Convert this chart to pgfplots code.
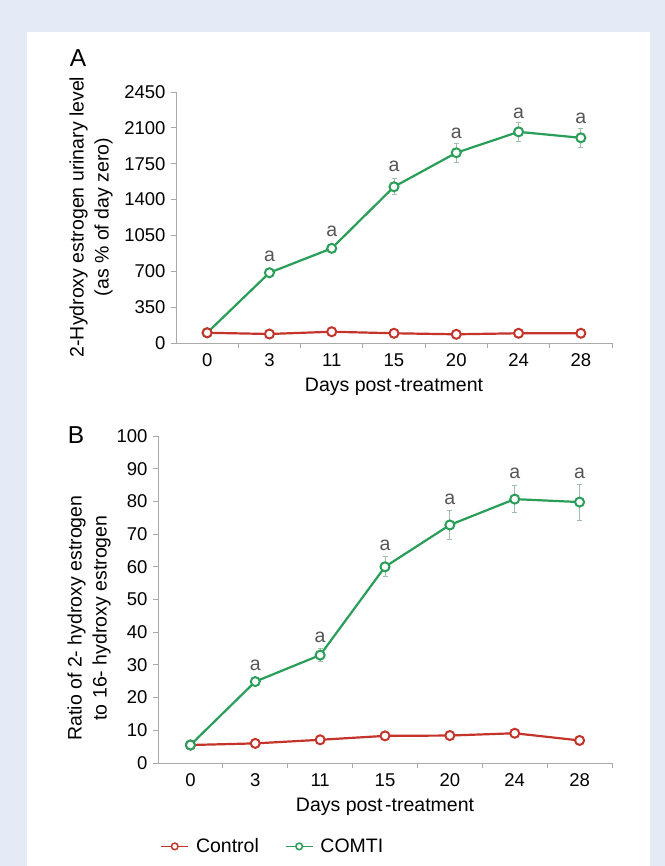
\documentclass[border=0pt]{standalone}
\usepackage{pgfplots}
\pgfplotsset{compat=1.18}
\usepackage{pgfplotstable}
\usepackage{fontspec}
\setmainfont{Liberation Sans}
\definecolor{bgblue}{RGB}{229,235,246}
\definecolor{cgreen}{RGB}{40,158,88}
\definecolor{cred}{RGB}{196,52,42}
\definecolor{errc}{RGB}{160,190,170}
\definecolor{axgray}{RGB}{170,170,170}
\definecolor{agray}{RGB}{85,85,85}

\pgfplotstableread{
x y e
0 100 0
1 686 25
2 924 35
3 1525 80
4 1857 95
5 2061 90
6 2003 90
}\Agreen
\pgfplotstableread{
x y e
0 100 0
1 88 0
2 110 0
3 95 0
4 85 0
5 95 0
6 95 0
}\Ared
\pgfplotstableread{
x y e
0 5.5 0
1 24.9 0.8
2 33.0 2.0
3 60.0 3.0
4 72.8 4.4
5 80.7 4.2
6 79.8 5.5
}\Bgreen
\pgfplotstableread{
x y e
0 5.5 0
1 6.0 0
2 7.1 0
3 8.3 0
4 8.4 0
5 9.1 0
6 6.9 0
}\Bred

\newcommand{\txtfont}{\fontsize{19.5bp}{25bp}\selectfont}
\newcommand{\tickfont}{\fontsize{18.5bp}{22bp}\selectfont}
\tikzset{alab/.style={text=agray, anchor=center}}
\pgfplotsset{
  mystyle/.style={
    scale only axis,
    axis x line=bottom, axis y line=left,
    axis line style={-, draw=axgray, line width=0.9bp},
    xmin=-0.5, xmax=6.5,
    xtick={0,...,6},
    xticklabels={0,3,11,15,20,24,28},
    minor xtick={0.5,1.5,...,6.5},
    major x tick style={draw=none},
    minor x tick style={draw=axgray, line width=0.9bp},
    tick align=outside,
    minor tick length=5bp, major tick length=5bp,
    ytick style={draw=axgray, line width=0.9bp},
    tick label style={font=\tickfont},
    xticklabel style={yshift=-2bp},
    yticklabel style={xshift=-2bp},
    /pgf/number format/assume math mode=true,
    /pgf/number format/1000 sep={},
    xlabel={Days post\hspace{2.5bp}-treatment},
    xlabel style={font=\txtfont, yshift=-5bp},
    clip=false,
  },
  ebars/.style={draw=none, mark=none, forget plot,
    error bars/.cd, y dir=both, y explicit,
    error bar style={draw=errc, line width=1bp},
    error mark options={rotate=90, draw=errc, mark size=2.5bp, line width=1bp}},
  gline/.style={cgreen, line width=2.2bp, mark=*, mark size=4.5bp,
    mark options={fill=white, draw=cgreen, line width=2bp}},
  rline/.style={cred, line width=2.2bp, mark=*, mark size=4.5bp,
    mark options={fill=white, draw=cred, line width=2bp}},
}

\begin{document}
\begin{tikzpicture}[font=\txtfont]
\useasboundingbox (0,0) rectangle (665bp,-866bp);
\fill[bgblue] (0,0) rectangle (665bp,-866bp);
\fill[white] (27bp,-32bp) rectangle (650bp,-866bp);

\node[font=\fontsize{24.5bp}{28bp}\selectfont] at (78bp,-58bp) {A};
\node[font=\fontsize{24.5bp}{28bp}\selectfont] at (76bp,-435bp) {B};

\node[rotate=90, align=center] at (91bp,-217bp) {2-Hydroxy estrogen urinary level\\(as \% of day zero)};
\node[rotate=90, align=center] at (89bp,-618bp) {Ratio of 2- hydroxy estrogen\\to 16- hydroxy estrogen};

\begin{axis}[mystyle, at={(176bp,-343bp)}, anchor=south west,
  width=436bp, height=251bp,
  ymin=0, ymax=2450, ytick={0,350,...,2450}]
\addplot[ebars] table[x=x, y=y, y error=e] {\Agreen};
\addplot[gline] table[x=x, y=y] {\Agreen};
\addplot[rline] table[x=x, y=y] {\Ared};
\node[alab] at (axis cs:1,686) [yshift=16bp] {a};
\node[alab] at (axis cs:2,924) [yshift=17bp] {a};
\node[alab] at (axis cs:3,1525) [yshift=20bp] {a};
\node[alab] at (axis cs:4,1857) [yshift=19bp] {a};
\node[alab] at (axis cs:5,2061) [yshift=19bp] {a};
\node[alab] at (axis cs:6,2003) [yshift=19bp] {a};
\end{axis}

\begin{axis}[mystyle, at={(158bp,-763bp)}, anchor=south west,
  width=454bp, height=327bp,
  ymin=0, ymax=100, ytick={0,10,...,100},
  legend style={at={(axis description cs:0.253,-0.255)}, anchor=center,
    draw=none, fill=none, legend columns=2, font=\txtfont,
    /tikz/every odd column/.append style={column sep=5bp},
    /tikz/every even column/.append style={column sep=24bp}},
  legend image code/.code={\draw[#1, mark repeat=2, mark phase=2] plot coordinates {(0bp,0bp)(13.5bp,0bp)(27bp,0bp)};},
  legend image post style={mark size=3.3bp, line width=1.6bp, mark options={fill=white, line width=1.5bp}}]
\addplot[rline] table[x=x, y=y] {\Bred};
\addlegendentry{Control}
\addplot[ebars] table[x=x, y=y, y error=e] {\Bgreen};
\addplot[gline] table[x=x, y=y] {\Bgreen};
\addlegendentry{COMTI}
\node[alab] at (axis cs:1,24.9) [yshift=16bp] {a};
\node[alab] at (axis cs:2,33.0) [yshift=18bp] {a};
\node[alab] at (axis cs:3,60.0) [yshift=21bp] {a};
\node[alab] at (axis cs:4,72.8) [yshift=26bp] {a};
\node[alab] at (axis cs:5,80.7) [yshift=26bp] {a};
\node[alab] at (axis cs:6,79.8) [yshift=29bp] {a};
\end{axis}
\end{tikzpicture}
\end{document}
